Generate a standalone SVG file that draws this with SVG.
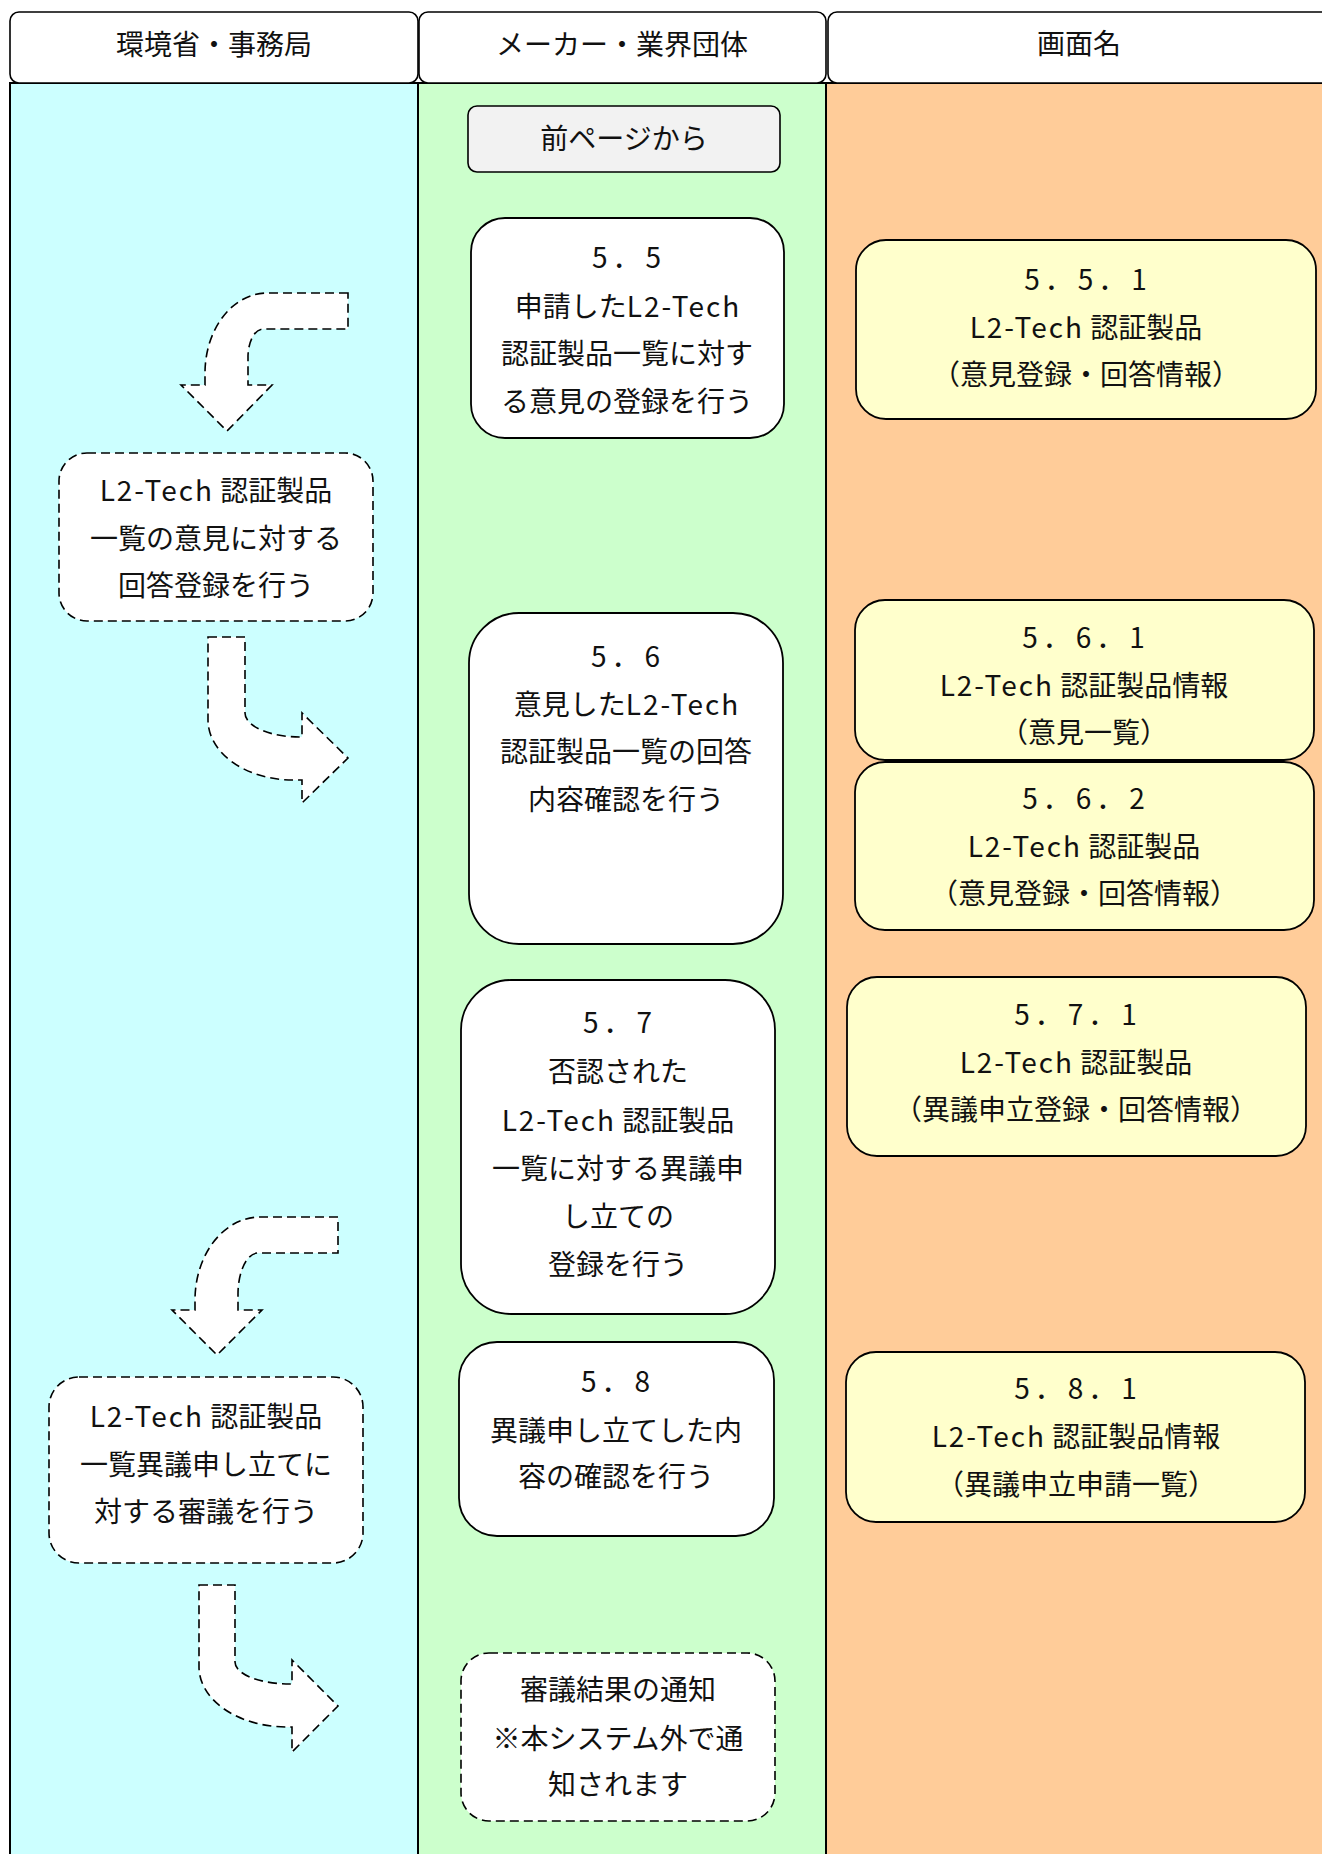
<svg xmlns="http://www.w3.org/2000/svg" width="1322" height="1854" viewBox="0 0 1322 1854">
<style>
text{font-family:"Noto Sans CJK JP","Noto Sans",sans-serif;font-size:28px;fill:#111;text-anchor:middle;dominant-baseline:central}
.l{letter-spacing:2px}
.num{letter-spacing:5px}
.hdr{fill:#fff;stroke:#000;stroke-width:1.6}
.lane{stroke:#000;stroke-width:2}
.node{fill:#fff;stroke:#000;stroke-width:1.8}
.screen{fill:#FFFFCC;stroke:#000;stroke-width:1.8}
.dash{fill:#fff;stroke:#000;stroke-width:1.6;stroke-dasharray:9 5}
.start{fill:#F2F2F2;stroke:#000;stroke-width:1.6}
</style>
<rect x="0" y="0" width="1322" height="1854" fill="#fff"/>
<g id="lanes">
<rect class="lane" x="10" y="83" width="408" height="1790" fill="#CCFFFF"/>
<rect class="lane" x="418" y="83" width="408" height="1790" fill="#CCFFCC"/>
<rect class="lane" x="826" y="83" width="520" height="1790" fill="#FFCC99"/>
</g>
<g id="header-env"><rect class="hdr" x="10" y="12" width="408" height="71" rx="9"/><text x="214" y="43">環境省・事務局</text></g>
<g id="header-maker"><rect class="hdr" x="419" y="12" width="407" height="71" rx="9"/><text x="622" y="43">メーカー・業界団体</text></g>
<g id="header-screen"><rect class="hdr" x="828" y="12" width="510" height="71" rx="9"/><text x="1079" y="42">画面名</text></g>

<g id="connectors" class="dash">
<path d="M 348 293 L 267 293 A 62 80 0 0 0 205 373 L 205 385 L 181 385 L 227 431 L 272 385 L 248 385 L 248 357 A 15 28 0 0 1 263 329 L 348 329 Z"/>
<path d="M 208 637 L 245 637 L 245 713 A 55 24 0 0 0 300 737 L 302 737 L 302 713 L 348 758 L 302 803 L 302 780 L 293 780 A 85 60 0 0 1 208 720 Z"/>
<path d="M 338 1217 L 260 1217 A 65 83 0 0 0 195 1300 L 195 1310 L 172 1310 L 217 1355 L 262 1310 L 238 1310 L 238 1294 A 20 41 0 0 1 258 1253 L 338 1253 Z"/>
<path d="M 199 1585 L 235 1585 L 235 1662 A 55 22 0 0 0 290 1684 L 292 1684 L 292 1660 L 338 1706 L 292 1752 L 292 1727 L 287 1727 A 88 60 0 0 1 199 1667 Z"/>
</g>

<g id="prev-page"><rect class="start" x="468" y="106" width="312" height="66" rx="9"/><text x="624" y="137">前ページから</text></g>

<g id="n5-5"><rect class="node" x="471" y="218" width="313" height="220" rx="34"/>
<text class="num" x="629" y="256">5．5</text><text x="628" y="305">申請した<tspan class="l">L2-Tech</tspan></text><text x="627" y="352">認証製品一覧に対す</text><text x="627" y="400">る意見の登録を行う</text></g>

<g id="n5-5-1"><rect class="screen" x="856" y="240" width="460" height="179" rx="30"/>
<text class="num" x="1088" y="278">5．5．1</text><text x="1086" y="326"><tspan class="l">L2-Tech</tspan> 認証製品</text><text x="1086" y="373">（意見登録・回答情報）</text></g>

<g id="env-answer"><rect class="dash" x="59" y="453" width="314" height="168" rx="28"/>
<text x="216" y="489"><tspan class="l">L2-Tech</tspan> 認証製品</text><text x="216" y="537">一覧の意見に対する</text><text x="216" y="584">回答登録を行う</text></g>

<g id="n5-6"><rect class="node" x="469" y="613" width="314" height="331" rx="50"/>
<text class="num" x="628" y="655">5．6</text><text x="627" y="703">意見した<tspan class="l">L2-Tech</tspan></text><text x="626" y="750">認証製品一覧の回答</text><text x="626" y="798">内容確認を行う</text></g>

<g id="n5-6-1"><rect class="screen" x="855" y="600" width="459" height="160" rx="30"/>
<text class="num" x="1086" y="636">5．6．1</text><text x="1084" y="684"><tspan class="l">L2-Tech</tspan> 認証製品情報</text><text x="1084" y="731">（意見一覧）</text></g>

<g id="n5-6-2"><rect class="screen" x="855" y="762" width="459" height="168" rx="30"/>
<text class="num" x="1086" y="797">5．6．2</text><text x="1084" y="845"><tspan class="l">L2-Tech</tspan> 認証製品</text><text x="1084" y="892">（意見登録・回答情報）</text></g>

<g id="n5-7"><rect class="node" x="461" y="980" width="314" height="334" rx="50"/>
<text class="num" x="620" y="1021">5．7</text><text x="618" y="1070">否認された</text><text x="618" y="1119"><tspan class="l">L2-Tech</tspan> 認証製品</text><text x="618" y="1167">一覧に対する異議申</text><text x="618" y="1215">し立ての</text><text x="618" y="1263">登録を行う</text></g>

<g id="n5-7-1"><rect class="screen" x="847" y="977" width="459" height="179" rx="30"/>
<text class="num" x="1078" y="1013">5．7．1</text><text x="1076" y="1061"><tspan class="l">L2-Tech</tspan> 認証製品</text><text x="1076" y="1108">（異議申立登録・回答情報）</text></g>

<g id="env-review"><rect class="dash" x="49" y="1377" width="314" height="186" rx="30"/>
<text x="206" y="1415"><tspan class="l">L2-Tech</tspan> 認証製品</text><text x="206" y="1463">一覧異議申し立てに</text><text x="206" y="1510">対する審議を行う</text></g>

<g id="n5-8"><rect class="node" x="459" y="1342" width="315" height="194" rx="38"/>
<text class="num" x="618" y="1380">5．8</text><text x="616" y="1429">異議申し立てした内</text><text x="616" y="1475">容の確認を行う</text></g>

<g id="n5-8-1"><rect class="screen" x="846" y="1352" width="459" height="170" rx="30"/>
<text class="num" x="1078" y="1387">5．8．1</text><text x="1076" y="1435"><tspan class="l">L2-Tech</tspan> 認証製品情報</text><text x="1076" y="1483">（異議申立申請一覧）</text></g>

<g id="notify"><rect class="dash" x="461" y="1653" width="314" height="168" rx="28"/>
<text x="618" y="1688">審議結果の通知</text><text x="618" y="1737">※本システム外で通</text><text x="618" y="1783">知されます</text></g>
</svg>
